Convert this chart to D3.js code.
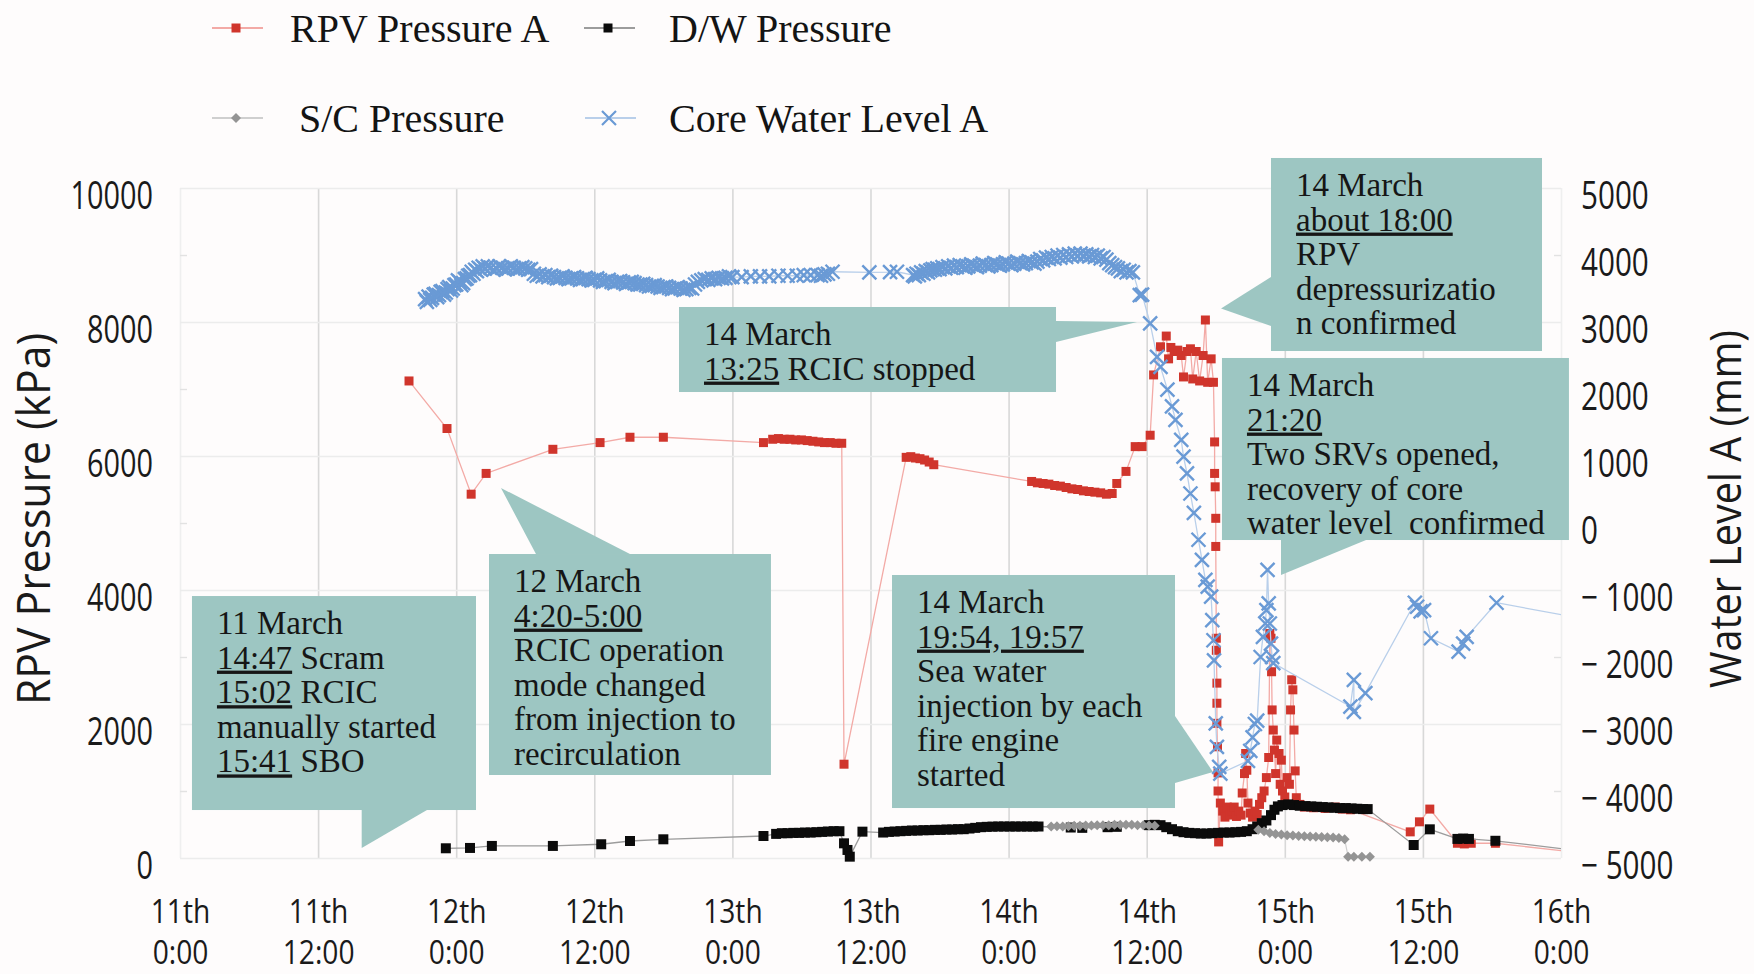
<!DOCTYPE html>
<html>
<head>
<meta charset="utf-8">
<script src="https://cdn.jsdelivr.net/npm/d3@7"></script>
<style>
  html, body { margin: 0; padding: 0; background: #fefcfc; }
  svg { display: block; }
</style>
</head>
<body>
<svg id="chart" width="1754" height="974"></svg>
<script>
// ---------- axis ticks ----------
const hourTicks = [0, 12, 24, 36, 48, 60, 72, 84, 96, 108, 120];
const dayLabels = ["11th", "11th", "12th", "12th", "13th", "13th", "14th", "14th", "15th", "15th", "16th"];
const clockLabels = ["0:00", "12:00", "0:00", "12:00", "0:00", "12:00", "0:00", "12:00", "0:00", "12:00", "0:00"];
const pressureTicks = [0, 2000, 4000, 6000, 8000, 10000];
const pressureTickLabels = ["0", "2000", "4000", "6000", "8000", "10000"];
const pressureMinorTicks = [1000, 3000, 5000, 7000, 9000];
const levelTicks = [-5000, -4000, -3000, -2000, -1000, 0, 1000, 2000, 3000, 4000, 5000];
const levelTickLabels = ["\u2212 5000", "\u2212 4000", "\u2212 3000", "\u2212 2000", "\u2212 1000", "0", "1000", "2000", "3000", "4000", "5000"];

// ---------- series: [hours since 11 March 0:00, value] ----------
const rpvPressureA = [
  [19.9, 7120], [23.2, 6410], [25.3, 5430], [26.6, 5740], [32.4, 6100], [36.5, 6200], [39.1, 6280], [42.0, 6280],
  [50.7, 6200], [51.5, 6250], [52.0, 6260], [52.5, 6250], [53.0, 6250], [53.5, 6240], [54.0, 6240], [54.5, 6230],
  [55.0, 6220], [55.5, 6210], [56.0, 6200], [56.5, 6200], [57.0, 6190], [57.5, 6190],
  [57.7, 1400],
  [63.1, 5980], [63.5, 5990], [63.9, 5970], [64.3, 5960], [64.7, 5940], [65.1, 5910], [65.5, 5870],
  [74.0, 5620], [74.5, 5600], [75.0, 5590], [75.5, 5580], [76.0, 5560], [76.5, 5550], [77.0, 5530], [77.5, 5510],
  [78.0, 5500], [78.5, 5480], [79.0, 5470], [79.5, 5460], [80.0, 5450], [80.5, 5430], [81.0, 5440],
  [81.4, 5590], [82.2, 5770], [83.0, 6140], [83.6, 6140], [84.3, 6310], [84.6, 7210], [85.2, 7630], [85.7, 7790],
  [85.9, 7450], [86.1, 7620], [86.4, 7560], [86.7, 7580], [87.0, 7500], [87.2, 7180], [87.5, 7560], [87.8, 7600],
  [88.0, 7150], [88.3, 7560], [88.6, 7120], [88.9, 7500], [89.1, 8030], [89.3, 7100], [89.6, 7450], [89.8, 7100],
  [89.9, 6210], [89.9, 5740], [89.95, 5540], [90.0, 5070], [90.0, 4650], [90.05, 3280], [90.05, 3100], [90.1, 2610],
  [90.1, 2310], [90.1, 2010], [90.15, 1660], [90.2, 1270], [90.2, 1000], [90.25, 240],
  [90.4, 820], [90.6, 700], [90.8, 610], [91.0, 760], [91.2, 640], [91.4, 700], [91.6, 760], [91.8, 620],
  [92.0, 700], [92.2, 640], [92.3, 970], [92.5, 1260], [92.6, 1560], [92.7, 1310], [92.8, 820], [93.0, 670],
  [93.2, 610], [93.4, 700], [93.6, 650], [93.8, 800], [94.0, 900], [94.2, 1000], [94.4, 1200], [94.6, 1500],
  [94.7, 3350], [94.8, 3280], [94.85, 2780], [94.9, 2210], [95.0, 1910], [95.1, 1610], [95.2, 1260], [95.3, 1760],
  [95.5, 1560], [95.6, 1100], [95.7, 1460], [95.8, 1000], [96.0, 910], [96.2, 1200], [96.4, 1100], [96.5, 2210],
  [96.6, 2660], [96.7, 2510], [96.8, 1910], [96.9, 1300], [97.0, 900], [97.3, 800], [97.7, 760],
  [98.5, 750], [99.5, 740], [100.4, 760], [101.0, 730], [101.7, 720],
  [106.9, 390], [107.7, 540], [108.6, 730], [111.0, 220], [111.6, 210], [112.2, 220], [114.3, 220], [121, 90]
];

const dwPressure = [
  [23.1, 145], [25.2, 150], [27.1, 180], [32.4, 180], [36.6, 205], [39.1, 254], [42.0, 279], [50.7, 328],
  [51.8, 360], [52.3, 370], [52.8, 370], [53.3, 375], [53.8, 375], [54.3, 380], [54.8, 380], [55.3, 385],
  [55.8, 390], [56.3, 395], [56.8, 400], [57.3, 400],
  [57.7, 219], [58.0, 120], [58.2, 20], [59.3, 393],
  [61.1, 380], [61.6, 390], [62.1, 395], [62.6, 400], [63.1, 405], [63.6, 410], [64.1, 410], [64.6, 415],
  [65.1, 415], [65.6, 420], [66.1, 420], [66.6, 425], [67.1, 425], [67.6, 430], [68.1, 430], [68.6, 440],
  [69.1, 450], [69.6, 460], [70.1, 465], [70.6, 468], [71.1, 470], [71.6, 470], [72.1, 470], [72.6, 470],
  [73.1, 470], [73.6, 470], [74.1, 470], [74.6, 470],
  [77.4, 455], [78.4, 450], [80.6, 460], [81.4, 465], [84.2, 490], [84.7, 495], [85.2, 490], [85.7, 460],
  [86.2, 430], [86.7, 400], [87.2, 385], [87.7, 375], [88.2, 370], [88.7, 365], [89.2, 365], [89.7, 370],
  [90.2, 375], [90.7, 380], [91.2, 380], [91.7, 385], [92.2, 390], [92.7, 400], [93.2, 430], [93.6, 470],
  [94.0, 520], [94.4, 560], [94.8, 640], [95.1, 720], [95.4, 770], [95.8, 790], [96.3, 800], [96.8, 790],
  [97.3, 780], [97.8, 775], [98.3, 770], [98.8, 765], [99.3, 760], [99.8, 755], [100.3, 750], [100.8, 745],
  [101.3, 745], [101.8, 740], [102.3, 735], [102.8, 730], [103.2, 730],
  [107.2, 194], [108.6, 428], [111.0, 285], [111.5, 290], [112.0, 285], [114.3, 257], [121, 120]
];

const scPressure = [
  [75.7, 470], [76.2, 475], [76.7, 470], [77.2, 475], [77.7, 480], [78.2, 480], [78.7, 485], [79.2, 485],
  [79.7, 490], [80.2, 490], [80.7, 490], [81.2, 495], [81.7, 495], [82.2, 495], [82.7, 495], [83.2, 490],
  [83.7, 490], [84.2, 485], [84.7, 480],
  [89.0, null],
  [93.7, 420], [94.2, 400], [94.7, 375], [95.2, 360], [95.7, 350], [96.2, 340], [96.7, 335], [97.2, 330],
  [97.7, 325], [98.2, 320], [98.7, 318], [99.2, 315], [99.7, 310], [100.2, 305], [100.7, 300], [101.2, 280],
  [101.5, 20], [102.0, 20], [102.7, 20], [103.4, 20]
];

const coreWaterLevelA = [
  [21.3, 3340], [21.45, 3300], [21.6, 3380], [21.75, 3330], [21.9, 3360], [22.05, 3410], [22.2, 3420], [22.35, 3370],
  [22.5, 3400], [22.65, 3450], [22.8, 3460], [22.95, 3410], [23.1, 3440], [23.25, 3490], [23.4, 3520], [23.55, 3470],
  [23.7, 3500], [23.85, 3550], [24.0, 3560], [24.15, 3620], [24.3, 3600], [24.45, 3550], [24.6, 3580], [24.75, 3640],
  [24.9, 3650], [25.05, 3690], [25.2, 3700], [25.35, 3750], [25.5, 3720], [25.65, 3780], [25.8, 3760], [25.95, 3810],
  [26.1, 3790], [26.3, 3830], [26.5, 3800], [26.75, 3830], [27.0, 3810], [27.25, 3780], [27.5, 3800], [27.75, 3830],
  [28.0, 3810], [28.25, 3790], [28.5, 3800], [28.75, 3830], [29.0, 3810], [29.25, 3790], [29.5, 3800], [29.75, 3820],
  [30.0, 3800], [30.25, 3780], [30.5, 3790], [30.75, 3720], [31.0, 3690], [31.25, 3710], [31.5, 3680], [31.75, 3700],
  [32.0, 3670], [32.25, 3690], [32.5, 3670], [32.75, 3650], [33.0, 3660], [33.25, 3680], [33.5, 3660], [33.75, 3640],
  [34.0, 3650], [34.25, 3670], [34.5, 3650], [34.75, 3630], [35.0, 3640], [35.25, 3660], [35.5, 3640], [35.75, 3620],
  [36.0, 3630], [36.25, 3650], [36.5, 3620], [36.75, 3600], [37.0, 3610], [37.25, 3630], [37.5, 3600], [37.75, 3580],
  [38.0, 3600], [38.25, 3610], [38.5, 3590], [38.75, 3570], [39.0, 3590], [39.25, 3600], [39.5, 3580], [39.75, 3560],
  [40.0, 3560], [40.25, 3570], [40.5, 3550], [40.75, 3530], [41.0, 3540], [41.25, 3550], [41.5, 3530], [41.75, 3510],
  [42.0, 3520], [42.25, 3530], [42.5, 3510], [42.75, 3490], [43.0, 3500], [43.25, 3520], [43.5, 3500], [43.75, 3480],
  [44.0, 3490], [44.25, 3510], [44.5, 3500], [44.75, 3560],
  [45.0, 3600], [45.3, 3620], [45.6, 3640], [45.9, 3630], [46.2, 3650], [46.5, 3640], [46.8, 3660], [47.1, 3650],
  [47.4, 3660], [47.7, 3680], [48.0, 3670], [48.8, 3670], [49.6, 3680], [50.4, 3680], [51.2, 3680], [52.0, 3690],
  [52.8, 3690], [53.6, 3690], [54.2, 3700], [54.8, 3700], [55.4, 3700], [55.7, 3690], [56.0, 3710], [56.3, 3720],
  [56.7, 3750],
  [59.9, 3740], [61.7, 3745], [62.3, 3750],
  [63.7, 3700], [63.85, 3680], [64.0, 3720], [64.2, 3700], [64.4, 3740], [64.6, 3720], [64.8, 3760], [65.0, 3740],
  [65.2, 3770], [65.4, 3790], [65.6, 3780], [65.8, 3800], [66.0, 3790], [66.25, 3820], [66.5, 3800], [66.75, 3830],
  [67.0, 3810], [67.25, 3840], [67.5, 3820], [67.75, 3850], [68.0, 3830], [68.25, 3810], [68.5, 3830], [68.75, 3860],
  [69.0, 3840], [69.25, 3820], [69.5, 3840], [69.75, 3870], [70.0, 3850], [70.25, 3830], [70.5, 3850], [70.75, 3880],
  [71.0, 3860], [71.25, 3840], [71.5, 3860], [71.75, 3890], [72.0, 3870], [72.25, 3850], [72.5, 3870], [72.75, 3900],
  [73.0, 3880], [73.25, 3860], [73.5, 3880], [73.75, 3910], [74.0, 3890], [74.25, 3870], [74.5, 3900], [74.75, 3940],
  [75.0, 3920], [75.25, 3960], [75.5, 3940], [75.75, 3970], [76.0, 3950], [76.25, 3990], [76.5, 3960], [76.75, 4000],
  [77.0, 3970], [77.25, 4010], [77.5, 3980], [77.75, 4020], [78.0, 3990], [78.25, 4020], [78.5, 3990], [78.75, 4010],
  [79.0, 3980], [79.25, 4000], [79.5, 3970], [79.75, 3990], [80.0, 3950], [80.25, 3970], [80.5, 3930], [80.75, 3880],
  [81.0, 3850], [81.25, 3820], [81.5, 3800], [81.75, 3760], [82.0, 3780], [82.25, 3740], [82.5, 3760], [82.8, 3740],
  [83.4, 3400], [83.6, 3410], [84.3, 2980], [84.9, 2480], [85.2, 2330], [85.8, 1990], [86.2, 1740], [86.5, 1540],
  [87.0, 1240], [87.2, 990], [87.5, 740], [87.8, 440], [88.1, 150], [88.5, -250], [88.8, -550], [89.1, -850],
  [89.3, -950], [89.6, -1100], [89.7, -1450], [89.8, -1750], [89.85, -2050], [90.0, -2990], [90.1, -3340],
  [90.3, -3640], [90.4, -3740],
  [92.8, -3550], [93.0, -3400], [93.2, -3200], [93.4, -3000], [93.6, -2950], [93.9, -2000], [94.1, -1700],
  [94.3, -1500], [94.4, -1300], [94.5, -700], [94.6, -1200], [94.7, -1500], [94.8, -1800], [94.9, -2000],
  [95.0, -2090],
  [101.7, -2740], [102.0, -2340], [102.0, -2820], [103.0, -2540],
  [107.3, -1190], [107.5, -1250], [107.8, -1320], [108.1, -1300], [108.7, -1720], [111.1, -1920], [111.5, -1800],
  [111.8, -1700], [114.4, -1190], [121, -1400]
];

// ---------- call-out notes (box and pointer anchored in hours / kPa) ----------
const calloutNotes = [
  { lines: ["11 March", "_14:47_ Scram", "_15:02_ RCIC", "manually started", "_15:41_ SBO"],
    box: [1.04, 25.72, 3910, 716], pointer: [[15.79, 716], [15.79, 149], [21.46, 716]] },
  { lines: ["12 March", "_4:20-5:00_", "RCIC operation", "mode changed", "from injection to", "recirculation"],
    box: [26.85, 51.35, 4537, 1239], pointer: [[30.93, 4537], [27.89, 5522], [39.10, 4537]] },
  { lines: ["14 March", "_13:25_ RCIC stopped"],
    box: [43.36, 76.12, 8224, 6955], pointer: [[76.12, 8015], [83.16, 8000], [76.12, 7701]] },
  { lines: ["14 March", "_about 18:00_", "RPV", "depressurizatio", "n confirmed"],
    box: [94.80, 118.35, 10448, 7567], pointer: [[94.80, 8672], [90.46, 8201], [94.80, 7940]] },
  { lines: ["14 March", "_21:20_", "Two SRVs opened,", "recovery of core", "water level  confirmed"],
    box: [90.54, 120.69, 7463, 4746], pointer: [[95.67, 4746], [95.67, 4224], [103.06, 4746]] },
  { lines: ["14 March", "_19:54, 19:57_", "Sea water", "injection by each", "fire engine", "started"],
    box: [61.87, 86.46, 4224, 746], pointer: [[86.46, 2119], [89.76, 1284], [86.46, 1119]] }
];

// ---------- layout ----------
const W = 1754, H = 974;
const plot = { left: 180, right: 1561, top: 188, bottom: 858 };
const sans = "'Open Sans', 'Noto Sans', sans-serif";
const serif = "'Liberation Serif', 'Times New Roman', serif";

const svg = d3.select("#chart");
svg.append("rect").attr("width", W).attr("height", H).attr("fill", "#fefcfc");

const x = d3.scaleLinear().domain([0, 120]).range([plot.left, plot.right]);
const yP = d3.scaleLinear().domain([0, 10000]).range([plot.bottom, plot.top]);
const yL = d3.scaleLinear().domain([-5000, 5000]).range([plot.bottom, plot.top]);

// ---------- grid ----------
const gx = svg.append("g").attr("transform", `translate(0,${plot.bottom})`)
  .call(d3.axisBottom(x).tickValues(hourTicks).tickSize(-(plot.bottom - plot.top)).tickFormat(""));
gx.select(".domain").remove();
gx.selectAll(".tick line")
  .attr("stroke", d => (d === 0 || d === 120) ? "#efefef" : "#d8d8d8")
  .attr("stroke-width", 1.6);

const gy = svg.append("g").attr("transform", `translate(${plot.left},0)`)
  .call(d3.axisLeft(yP).tickValues(pressureTicks).tickSize(-(plot.right - plot.left)).tickFormat(""));
gy.select(".domain").remove();
gy.selectAll(".tick line").attr("stroke", "#ececec").attr("stroke-width", 1.6);

const gm = svg.append("g").attr("transform", `translate(${plot.left},0)`)
  .call(d3.axisLeft(yP).tickValues(pressureMinorTicks).tickSize(-7).tickFormat(""));
gm.select(".domain").remove();
gm.selectAll(".tick line").attr("stroke", "#e2e2e2").attr("stroke-width", 1.4);
const gmr = svg.append("g").attr("transform", `translate(${plot.right},0)`)
  .call(d3.axisRight(yP).tickValues(pressureMinorTicks).tickSize(-7).tickFormat(""));
gmr.select(".domain").remove();
gmr.selectAll(".tick line").attr("stroke", "#e2e2e2").attr("stroke-width", 1.4);

// ---------- axis labels ----------
const axLeft = svg.append("g").attr("transform", "translate(153,0)")
  .call(d3.axisLeft(yP).tickValues(pressureTicks).tickSize(0).tickPadding(0)
    .tickFormat((d, i) => pressureTickLabels[i]));
axLeft.select(".domain").remove();
axLeft.attr("font-family", null).attr("font-size", null);
axLeft.selectAll(".tick text")
  .attr("x", null).attr("dy", null)
  .attr("text-anchor", "end")
  .attr("transform", "translate(0,20) scale(0.74,1)")
  .style("font-family", sans).style("font-size", "39px").attr("fill", "#1a1a1a");

const axRight = svg.append("g").attr("transform", "translate(1581,0)")
  .call(d3.axisRight(yL).tickValues(levelTicks).tickSize(0).tickPadding(0)
    .tickFormat((d, i) => levelTickLabels[i]));
axRight.select(".domain").remove();
axRight.attr("font-family", null).attr("font-size", null);
axRight.selectAll(".tick text")
  .attr("x", null).attr("dy", null)
  .attr("text-anchor", "start")
  .attr("transform", "translate(0,20) scale(0.76,1)")
  .style("font-family", sans).style("font-size", "39px").attr("fill", "#1a1a1a");

const axBottom = svg.append("g").attr("transform", `translate(0,${plot.bottom})`)
  .call(d3.axisBottom(x).tickValues(hourTicks).tickSize(0).tickPadding(0).tickFormat(""));
axBottom.select(".domain").remove();
axBottom.selectAll(".tick text").remove();
axBottom.selectAll(".tick").each(function (d, i) {
  const t = d3.select(this).append("text")
    .attr("text-anchor", "middle")
    .attr("transform", "scale(0.88,1)")
    .style("font-family", sans).style("font-size", "32px").attr("fill", "#1a1a1a");
  t.append("tspan").attr("x", 0).attr("y", 65).text(dayLabels[i]);
  t.append("tspan").attr("x", 0).attr("y", 106).text(clockLabels[i]);
});

svg.append("text")
  .attr("transform", "translate(50,519) rotate(-90)")
  .attr("text-anchor", "middle")
  .attr("textLength", 372).attr("lengthAdjust", "spacingAndGlyphs")
  .style("font-family", sans).style("font-size", "45px").attr("fill", "#1a1a1a")
  .text("RPV Pressure (kPa)");

svg.append("text")
  .attr("transform", "translate(1741,509) rotate(-90)")
  .attr("text-anchor", "middle")
  .attr("textLength", 358).attr("lengthAdjust", "spacingAndGlyphs")
  .style("font-family", sans).style("font-size", "43px").attr("fill", "#1a1a1a")
  .text("Water Level A (mm)");

// ---------- series ----------
svg.append("clipPath").attr("id", "plot-clip")
  .append("rect").attr("x", plot.left).attr("y", 0).attr("width", plot.right - plot.left).attr("height", H);

const layer = svg.append("g").attr("clip-path", "url(#plot-clip)");

const markerPath = {
  square: "M-4.5,-4.5H4.5V4.5H-4.5Z",
  bigSquare: "M-5,-5H5V5H-5Z",
  diamond: "M0,-5L5,0L0,5L-5,0Z",
  cross: "M-7,-7L7,7M-7,7L7,-7"
};

const series = [
  { name: "RPV Pressure A", data: rpvPressureA, y: yP, line: "#f3aaa6", lw: 1.3, marker: "square", fill: "#d0352c" },
  { name: "D/W Pressure", data: dwPressure, y: yP, line: "#9c9c9c", lw: 1.3, marker: "bigSquare", fill: "#0b0b0b" },
  { name: "S/C Pressure", data: scPressure, y: yP, line: "#cfcfcf", lw: 1.2, marker: "diamond", fill: "#949494" },
  { name: "Core Water Level A", data: coreWaterLevelA, y: yL, line: "#b9cfea", lw: 1.3, marker: "cross", fill: "#6a9ad5" }
];

series.forEach(s => {
  const g = layer.append("g");
  const line = d3.line()
    .defined(d => d[1] !== null)
    .x(d => x(d[0])).y(d => s.y(d[1]));
  g.append("path").datum(s.data)
    .attr("d", line).attr("fill", "none")
    .attr("stroke", s.line).attr("stroke-width", s.lw);
  const pts = g.selectAll("path.pt").data(s.data.filter(d => d[1] !== null)).join("path")
    .attr("class", "pt")
    .attr("transform", d => `translate(${x(d[0])},${s.y(d[1])})`)
    .attr("d", markerPath[s.marker]);
  if (s.marker === "cross") {
    pts.attr("fill", "none").attr("stroke", s.fill).attr("stroke-width", 2.4);
  } else {
    pts.attr("fill", s.fill);
  }
});

// ---------- legend ----------
const legendLayout = [
  { mx: 236, tx: 290, y: 28 },
  { mx: 608, tx: 669, y: 28 },
  { mx: 236, tx: 299, y: 118 },
  { mx: 609, tx: 669, y: 118 }
];
series.forEach((s, i) => {
  const L = legendLayout[i];
  const g = svg.append("g");
  g.append("line").attr("x1", L.mx - 24).attr("x2", L.mx + 27).attr("y1", L.y).attr("y2", L.y)
    .attr("stroke", s.line).attr("stroke-width", 2);
  const m = g.append("path").attr("transform", `translate(${L.mx},${L.y})`)
    .attr("d", markerPath[s.marker === "bigSquare" ? "square" : s.marker]);
  if (s.marker === "cross") m.attr("fill", "none").attr("stroke", s.fill).attr("stroke-width", 2.2);
  else m.attr("fill", s.fill);
  g.append("text").attr("x", L.tx).attr("y", L.y + 14)
    .style("font-family", serif).style("font-size", "40px").attr("fill", "#141414")
    .text(s.name);
});

// ---------- call-outs ----------
const noteFill = "#9dc6c2";
calloutNotes.forEach(n => {
  const g = svg.append("g");
  const [h0, h1, pTop, pBot] = n.box;
  g.append("rect")
    .attr("x", x(h0)).attr("y", yP(pTop))
    .attr("width", x(h1) - x(h0)).attr("height", yP(pBot) - yP(pTop))
    .attr("fill", noteFill);
  g.append("path")
    .attr("d", "M" + n.pointer.map(p => `${x(p[0])},${yP(p[1])}`).join("L") + "Z")
    .attr("fill", noteFill);
  const tx = x(h0) + 25, ty = yP(pTop) + 38;
  n.lines.forEach((ln, i) => {
    const t = g.append("text").attr("x", tx).attr("y", ty + i * 34.6)
      .style("font-family", serif).style("font-size", "33px").style("white-space", "pre")
      .attr("fill", "#161616");
    ln.split("_").forEach((part, k) => {
      if (!part) return;
      const sp = t.append("tspan").text(part);
      if (k % 2 === 1) sp.style("text-decoration", "underline");
    });
  });
});
</script>
</body>
</html>
